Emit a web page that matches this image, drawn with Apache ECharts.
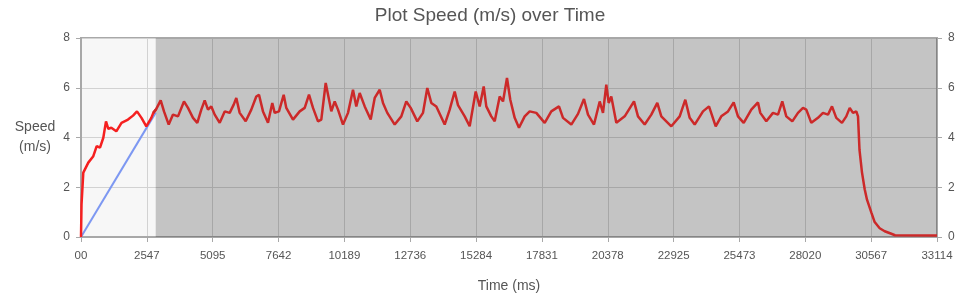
<!DOCTYPE html>
<html>
<head>
<meta charset="utf-8">
<script src="https://cdn.jsdelivr.net/npm/echarts@6/dist/echarts.min.js"></script>
<style>
html,body{margin:0;padding:0;background:#fff;}
#chart{width:980px;height:298px;}
</style>
</head>
<body>
<div id="chart"></div>
<script>
// Time (ms) and speed (m/s)
const timeMs = [0,20,89,282,476,607,735,863,967,1056,1172,1249,1366,1443,1567,1818,2012,2166,2340,2526,2603,2720,2797,2913,3083,3211,3393,3559,3752,3984,4139,4333,4499,4654,4785,4913,5041,5172,5366,5559,5752,5907,6008,6139,6371,6588,6781,6886,7040,7234,7400,7493,7659,7841,7942,8201,8460,8654,8820,8975,9168,9296,9466,9621,9683,9814,9942,10135,10329,10522,10650,10781,10975,11207,11362,11555,11683,11849,12135,12391,12584,12754,13009,13230,13396,13551,13745,14069,14263,14456,14584,14843,15036,15269,15423,15578,15679,15872,16004,16197,16325,16479,16607,16777,16943,17164,17357,17613,17938,18193,18491,18646,18967,19226,19458,19613,19845,20066,20193,20321,20414,20514,20708,21033,21393,21547,21806,22062,22294,22449,22836,23160,23377,23547,23740,24061,24294,24553,24769,25029,25249,25415,25636,25930,26189,26278,26510,26769,26963,27129,27284,27516,27736,27930,28058,28251,28510,28703,28897,29052,29218,29438,29605,29737,29864,29992,30058,30116,30212,30317,30406,30572,30703,30897,31091,31346,31489,33114];
const speed = [0,1.3,2.59,2.99,3.25,3.65,3.59,3.99,4.65,4.35,4.39,4.45,4.25,4.19,4.59,4.72,4.88,5.05,4.79,4.45,4.45,4.79,4.99,5.15,5.49,5.05,4.52,4.92,4.85,5.45,5.19,4.79,4.59,5.12,5.49,5.12,5.25,4.92,4.59,5.05,4.99,5.32,5.59,4.99,4.65,5.12,5.65,5.72,5.05,4.59,5.39,4.99,5.05,5.72,5.19,4.72,5.05,5.19,5.72,5.19,4.65,4.72,6.19,5.39,5.05,5.45,5.12,4.52,4.99,5.92,5.25,5.79,5.25,4.72,5.59,5.92,5.39,4.99,4.52,4.85,5.45,5.19,4.65,4.99,5.99,5.39,5.25,4.52,5.12,5.85,5.3,4.85,4.45,5.85,5.25,6.05,5.25,4.85,4.65,5.65,5.45,6.39,5.52,4.79,4.39,4.85,5.05,4.99,4.59,5.05,5.25,4.79,4.52,4.95,5.55,4.92,4.52,5.45,4.99,6.12,5.39,5.65,4.59,4.85,5.45,4.85,4.52,4.92,5.39,4.85,4.45,4.85,5.52,4.79,4.52,5.05,5.25,4.45,4.85,5.05,5.41,4.85,4.59,5.12,5.41,4.99,4.65,4.99,4.92,5.45,4.85,4.65,4.99,5.19,5.12,4.59,4.79,4.99,4.92,5.25,4.79,4.59,4.85,5.19,4.99,5.05,4.85,3.5,2.6,1.92,1.5,0.99,0.6,0.35,0.23,0.13,0.07,0.06];
// Blue reference line
const refTime = [0, 2890];
const refSpeed = [0, 5.0];
// Shaded region
const shadeStart = 2890;
const shadeEnd = 33114;
// Axis ticks
const xTickLabels = ['00','2547','5095','7642','10189','12736','15284','17831','20378','22925','25473','28020','30567','33114'];
const xMax = 33114;
const yTicks = [0,2,4,6,8];

const xInterval = xMax / (xTickLabels.length - 1);
const allData = timeMs.map((t, i) => [t, speed[i]]);
// split at the shaded region so the part inside it is drawn darker
const firstIn = timeMs.findIndex(t => t >= shadeStart);
const lightData = allData.slice(0, firstIn + 1);
const darkData = allData.slice(firstIn - 1);
const refData = refTime.map((t, i) => [t, refSpeed[i]]);

const txt = '#555555';
const font = 'Liberation Sans';
const chart = echarts.init(document.getElementById('chart'), null, {renderer: 'canvas'});
const yAxisBase = {
  type: 'value', min: yTicks[0], max: yTicks[yTicks.length-1], interval: yTicks[1]-yTicks[0],
  axisLine: {show: true, lineStyle: {color: '#a8a8a8', width: 2}},
  axisTick: {show: true, length: 5, lineStyle: {color: '#a8a8a8'}},
  axisLabel: {color: txt, fontFamily: font, fontSize: 12, margin: 11},
};
chart.setOption({
  animation: false,
  backgroundColor: '#ffffff',
  title: {
    text: 'Plot Speed (m/s) over Time', left: 'center', top: 1,
    textStyle: {color: txt, fontFamily: font, fontSize: 19, fontWeight: 'normal'}
  },
  grid: {left: 81, right: 43, top: 38, bottom: 60, show: true, backgroundColor: '#f7f7f7', borderColor: '#a8a8a8', borderWidth: 2},
  xAxis: {
    type: 'value', min: 0, max: xMax, interval: xInterval,
    name: 'Time (ms)', nameLocation: 'middle', nameGap: 42,
    nameTextStyle: {color: txt, fontFamily: font, fontSize: 14},
    axisLine: {show: true, onZero: false, lineStyle: {color: '#a8a8a8', width: 2}},
    axisTick: {show: true, length: 5, lineStyle: {color: '#a8a8a8'}},
    axisLabel: {color: txt, fontFamily: font, fontSize: 11.5, margin: 13,
      formatter: v => xTickLabels[Math.round(v / xInterval)]},
    splitLine: {show: true, lineStyle: {color: '#d2d2d2', width: 1}}
  },
  yAxis: [
    Object.assign({}, yAxisBase, {
      position: 'left',
      name: 'Speed\n(m/s)', nameLocation: 'middle', nameRotate: 0, nameGap: 46,
      nameTextStyle: {color: txt, fontFamily: font, fontSize: 14, lineHeight: 20, align: 'center'},
      splitLine: {show: true, lineStyle: {color: '#d2d2d2', width: 1}}
    }),
    Object.assign({}, yAxisBase, {position: 'right', splitLine: {show: false}})
  ],
  series: [
    {
      type: 'line', data: [], silent: true,
      markArea: {silent: true, itemStyle: {color: 'rgba(0,0,0,0.205)'},
        data: [[{xAxis: shadeStart}, {xAxis: shadeEnd}]]}
    },
    {
      type: 'line', data: refData, showSymbol: false, symbol: 'none',
      lineStyle: {width: 2, color: '#7d98f2'}, itemStyle: {color: '#7d98f2'}
    },
    {
      type: 'line', data: lightData, showSymbol: false, symbol: 'none',
      lineStyle: {width: 2.5, color: '#f52020'}, itemStyle: {color: '#f52020'}
    },
    {
      type: 'line', data: darkData, showSymbol: false, symbol: 'none',
      lineStyle: {width: 2.5, color: '#cc2929'}, itemStyle: {color: '#cc2929'}
    }
  ]
});
</script>
</body>
</html>
